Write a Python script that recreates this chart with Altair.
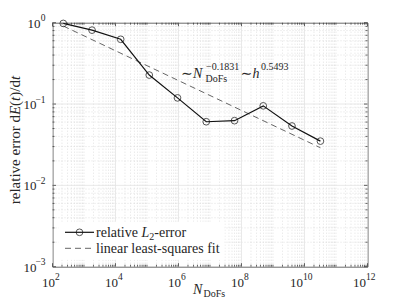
import altair as alt
import pandas as pd

# ---- data ----
n_dofs = [220, 1800, 14600, 1.18e5, 9.3e5, 7.6e6, 6.0e7, 4.9e8, 4.0e9, 3.2e10]
rel_err = [0.98, 0.81, 0.625, 0.227, 0.119, 0.0606, 0.0624, 0.095, 0.0537, 0.035]
fit_n = [220, 3.2e10]
fit_err = [0.91, 0.029]

x_major = [1e2, 1e4, 1e6, 1e8, 1e10, 1e12]
x_major_exp = ["2", "4", "6", "8", "10", "12"]
y_major = [1e-3, 1e-2, 1e-1, 1e0]
y_major_exp = ["\u22123", "\u22122", "\u22121", "0"]
x_minor = [m * 10.0 ** k for k in range(2, 12) for m in range(1, 10) if m > 1 or k % 2 == 1]
y_minor = [m * 10.0 ** k for k in range(-3, 0) for m in range(2, 10)]

W, H = 315, 244
FONT = "'Liberation Serif', 'Times New Roman', 'DejaVu Serif', serif"
TXT = "#262626"

xs = alt.Scale(type="log", domain=[1e2, 1e12], nice=False)
ys = alt.Scale(type="log", domain=[1e-3, 1], nice=False)

main = pd.DataFrame({"n": n_dofs, "e": rel_err})
fit = pd.DataFrame({"n": fit_n, "e": fit_err})
xmaj = pd.DataFrame({"v": x_major, "exp": x_major_exp})
ymaj = pd.DataFrame({"v": y_major, "exp": y_major_exp})
xmin = pd.DataFrame({"v": x_minor})
ymin = pd.DataFrame({"v": y_minor})
one = pd.DataFrame({"a": [0]})


def vgrid(df, dash, color, width):
    kw = dict(color=color, strokeWidth=width)
    if dash:
        kw["strokeDash"] = dash
    return alt.Chart(df).mark_rule(**kw).encode(
        x=alt.X("v:Q", scale=xs, axis=None), y=alt.value(0), y2=alt.value(H))


def hgrid(df, dash, color, width):
    kw = dict(color=color, strokeWidth=width)
    if dash:
        kw["strokeDash"] = dash
    return alt.Chart(df).mark_rule(**kw).encode(
        y=alt.Y("v:Q", scale=ys, axis=None), x=alt.value(0), x2=alt.value(W))


def xticks(df, L):
    b = alt.Chart(df).mark_rule(color=TXT, strokeWidth=0.7)
    return (b.encode(x=alt.X("v:Q", scale=xs, axis=None), y=alt.value(H), y2=alt.value(H - L))
            + b.encode(x=alt.X("v:Q", scale=xs, axis=None), y=alt.value(0), y2=alt.value(L)))


def yticks(df, L):
    b = alt.Chart(df).mark_rule(color=TXT, strokeWidth=0.7)
    return (b.encode(y=alt.Y("v:Q", scale=ys, axis=None), x=alt.value(0), x2=alt.value(L))
            + b.encode(y=alt.Y("v:Q", scale=ys, axis=None), x=alt.value(W), x2=alt.value(W - L)))


def txt(s, x, y, size=14, italic=False, align="left", angle=0):
    kw = dict(align=align, baseline="alphabetic", font=FONT, fontSize=size,
              fontStyle="italic" if italic else "normal", color=TXT)
    if angle:
        kw["angle"] = angle
    return alt.Chart(pd.DataFrame({"t": [s]})).mark_text(**kw).encode(
        x=alt.value(x), y=alt.value(y), text="t:N")


grid = (vgrid(xmin, [1, 2], "#cfcfcf", 0.6) + hgrid(ymin, [1, 2], "#cfcfcf", 0.6)
        + vgrid(xmaj, None, "#e3e3e3", 0.8) + hgrid(ymaj, None, "#e3e3e3", 0.8))

legend_bg = alt.Chart(one).mark_rect(color="white").encode(
    x=alt.value(6), x2=alt.value(172), y=alt.value(199), y2=alt.value(237))

ticks = xticks(xmin, 2) + xticks(xmaj, 3.5) + yticks(ymin, 2) + yticks(ymaj, 3.5)

fit_line = alt.Chart(fit).mark_line(color="#555555", strokeWidth=0.9, strokeDash=[6, 4]).encode(
    x=alt.X("n:Q", scale=xs, axis=None), y=alt.Y("e:Q", scale=ys, axis=None))
data_line = alt.Chart(main).mark_line(color="#111111", strokeWidth=1.2).encode(
    x=alt.X("n:Q", scale=xs, axis=None), y=alt.Y("e:Q", scale=ys, axis=None))
data_pts = alt.Chart(main).mark_point(shape="circle", filled=False, color="#111111", size=45,
                                      strokeWidth=1.0).encode(
    x=alt.X("n:Q", scale=xs, axis=None), y=alt.Y("e:Q", scale=ys, axis=None))

# tick labels
xl_base = alt.Chart(xmaj).transform_calculate(ten="'10'", L="length(datum.exp)")
x_labels = alt.layer(
    xl_base.transform_filter("datum.L == 1").mark_text(align="right", font=FONT, fontSize=13, color=TXT, dx=2.5)
    .encode(x=alt.X("v:Q", scale=xs, axis=None), y=alt.value(H + 16.5), text="ten:N"),
    xl_base.transform_filter("datum.L == 1").mark_text(align="left", font=FONT, fontSize=9.5, color=TXT, dx=2.5)
    .encode(x=alt.X("v:Q", scale=xs, axis=None), y=alt.value(H + 10.5), text="exp:N"),
    xl_base.transform_filter("datum.L == 2").mark_text(align="right", font=FONT, fontSize=13, color=TXT, dx=-1.5)
    .encode(x=alt.X("v:Q", scale=xs, axis=None), y=alt.value(H + 16.5), text="ten:N"),
    xl_base.transform_filter("datum.L == 2").mark_text(align="left", font=FONT, fontSize=9.5, color=TXT, dx=-1.5)
    .encode(x=alt.X("v:Q", scale=xs, axis=None), y=alt.value(H + 10.5), text="exp:N"),
)
yl_base = alt.Chart(ymaj).transform_calculate(ten="'10'", L="length(datum.exp)")
y_labels = alt.layer(
    yl_base.transform_filter("datum.L == 1").mark_text(align="right", baseline="middle", font=FONT, fontSize=13,
                                                      color=TXT, dx=-12, dy=1)
    .encode(y=alt.Y("v:Q", scale=ys, axis=None), x=alt.value(0), text="ten:N"),
    yl_base.transform_filter("datum.L == 1").mark_text(align="right", baseline="middle", font=FONT, fontSize=9.5,
                                                      color=TXT, dx=-7, dy=-4.5)
    .encode(y=alt.Y("v:Q", scale=ys, axis=None), x=alt.value(0), text="exp:N"),
    yl_base.transform_filter("datum.L == 2").mark_text(align="right", baseline="middle", font=FONT, fontSize=13,
                                                      color=TXT, dx=-16, dy=1)
    .encode(y=alt.Y("v:Q", scale=ys, axis=None), x=alt.value(0), text="ten:N"),
    yl_base.transform_filter("datum.L == 2").mark_text(align="right", baseline="middle", font=FONT, fontSize=9.5,
                                                      color=TXT, dx=-7, dy=-4.5)
    .encode(y=alt.Y("v:Q", scale=ys, axis=None), x=alt.value(0), text="exp:N"),
)

# axis titles
x_title = txt("N", 140.5, H + 27, italic=True) + txt("DoFs", 151, H + 30.5, size=10)
S = 181.5
YX = -32.5
YF = 15
y_title = (txt("relative error d", YX, S, size=YF, angle=270)
           + txt("E", YX, S - 89.1, size=YF, italic=True, angle=270)
           + txt("(", YX, S - 98.3, size=YF, angle=270)
           + txt("t", YX, S - 103.3, size=YF, italic=True, angle=270)
           + txt(")/d", YX, S - 107.5, size=YF, angle=270)
           + txt("t", YX, S - 124.1, size=YF, italic=True, angle=270))

# annotation
ann = (txt("\u223c", 128.5, 55.3) + txt("N", 140.5, 55.3, italic=True)
       + txt("\u22120.1831", 153.5, 47.3, size=10) + txt("DoFs", 153, 59.3, size=10)
       + txt("\u223c", 188, 55.3) + txt("h", 200, 55.3, italic=True)
       + txt("0.5493", 208.5, 47.3, size=10))

# legend
leg_line = alt.Chart(one).mark_rule(color="#111111", strokeWidth=1.2).encode(
    x=alt.value(12.5), x2=alt.value(41.5), y=alt.value(209.6))
leg_pt = alt.Chart(one).mark_point(shape="circle", filled=False, color="#111111", size=45, strokeWidth=1.0).encode(
    x=alt.value(27), y=alt.value(209.6))
leg_dash = alt.Chart(one).mark_rule(color="#555555", strokeWidth=0.9, strokeDash=[6, 4]).encode(
    x=alt.value(12.5), x2=alt.value(41.5), y=alt.value(225.6))
leg_txt = (txt("relative ", 43.5, 214.3) + txt("L", 89, 214.3, italic=True) + txt("2", 96.8, 217.3, size=10)
           + txt("-error", 101.8, 214.3) + txt("linear least-squares fit", 43.5, 230.3))

chart = alt.layer(
    grid, legend_bg, ticks, fit_line, data_line, data_pts, x_labels, y_labels,
    x_title, y_title, ann, leg_line, leg_pt, leg_dash, leg_txt
).properties(
    width=W, height=H,
    autosize=alt.AutoSizeParams(type="none"),
    padding={"left": 44.5, "top": 14.7, "right": 31.5, "bottom": 31.3},
).configure_view(stroke=TXT, strokeWidth=0.9)

chart.save("out.html", embed_options={"renderer": "svg", "actions": False})
